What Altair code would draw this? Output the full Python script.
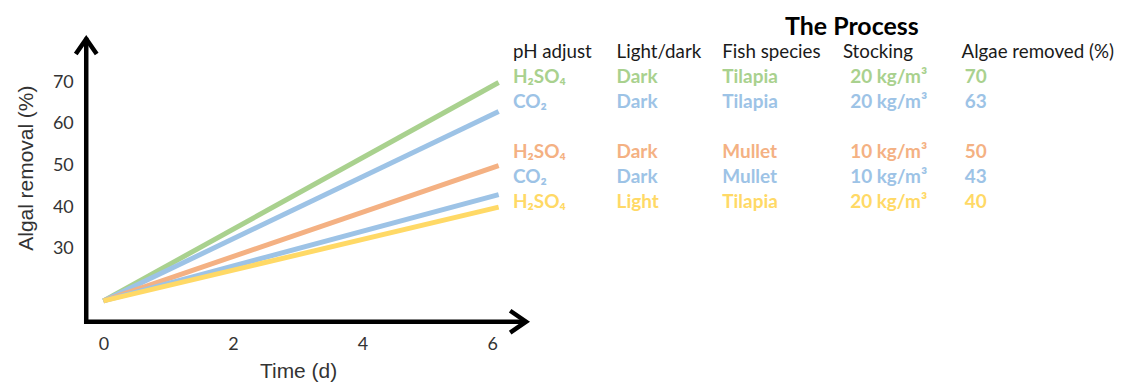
import altair as alt
import pandas as pd

# One line per treatment process
ph_adjust = ["H₂SO₄", "CO₂", "H₂SO₄", "CO₂", "H₂SO₄"]
light_dark = ["Dark", "Dark", "Dark", "Dark", "Light"]
fish_species = ["Tilapia", "Tilapia", "Mullet", "Mullet", "Tilapia"]
stocking = ["20 kg/m³", "20 kg/m³", "10 kg/m³", "10 kg/m³", "20 kg/m³"]
algae_removed = [70, 63, 50, 43, 40]

# Removal at the start of the run, and the first/last day of the run
removal_day0 = 17.4
run_days = [0, 6.1]

x_ticks = [0, 2, 4, 6]
y_ticks = [30, 40, 50, 60, 70]

headers = ["pH adjust", "Light/dark", "Fish species", "Stocking", "Algae removed (%)"]
table_title = "The Process"

# Styling
palette = ["#A9D18E", "#9DC3E6", "#F4B183", "#9DC3E6", "#FFD966"]
TICK_FONT = "Lato"
TITLE_FONT = "Liberation Sans"
TABLE_FONT = "Lato"
PLOT_W, PLOT_H = 427.8, 283.7
COL_WIDTHS = [103.4, 105.3, 120.7, 119.0, 162.3]
COL_DX = [0, 0, 0, 7.3, 3.3]

series_ids = [f"p{i + 1}" for i in range(len(algae_removed))]
color_scale = alt.Scale(domain=series_ids, range=palette)

# ---- line chart -------------------------------------------------------
line_rows = []
for sid, end in zip(series_ids, algae_removed):
    line_rows.append({"series": sid, "day": run_days[0], "removal": removal_day0})
    line_rows.append({"series": sid, "day": run_days[1], "removal": end})
lines_df = pd.DataFrame(line_rows)

lines = alt.Chart(lines_df).mark_line(strokeWidth=5).encode(
    x=alt.X(
        "day:Q",
        scale=alt.Scale(domain=[-0.265, 6.317], nice=False, zero=False),
        axis=alt.Axis(
            values=x_ticks, title="Time (d)", domain=False, ticks=False, tickSize=0,
            grid=False, labelFont=TICK_FONT, labelFontSize=18, labelColor="#333333",
            labelPadding=14, titleFont=TITLE_FONT, titleFontSize=21,
            titleFontWeight="normal", titleColor="#333333",
            titleX=212.5, titleY=50, titleBaseline="middle", titleAlign="center",
        ),
    ),
    y=alt.Y(
        "removal:Q",
        scale=alt.Scale(domain=[12.4, 80.5], nice=False, zero=False),
        axis=alt.Axis(
            values=y_ticks, title="Algal removal (%)", domain=False, ticks=False,
            tickSize=0, grid=False, labelFont=TICK_FONT, labelFontSize=18,
            labelColor="#333333", labelPadding=13, titleFont=TITLE_FONT,
            titleFontSize=21, titleFontWeight="normal", titleColor="#333333",
            titleX=-59.5, titleY=129.2, titleBaseline="middle", titleAlign="center",
        ),
    ),
    color=alt.Color("series:N", scale=color_scale, legend=None),
    order=alt.Order("series:N"),
)

one = pd.DataFrame({"k": [0]})
axis_style = dict(color="black", strokeWidth=4.5)

y_axis_line = alt.Chart(one).mark_rule(strokeCap="square", **axis_style).encode(
    x=alt.value(0), y=alt.value(1), y2=alt.value(PLOT_H)
)
x_axis_line = alt.Chart(one).mark_rule(strokeCap="square", **axis_style).encode(
    x=alt.value(0), x2=alt.value(439), y=alt.value(PLOT_H)
)
up_arrow = alt.Chart(one).mark_point(
    shape="M-1,1.45L0,0L1,1.45", filled=False, size=441, opacity=1,
    strokeJoin="miter", **axis_style
).encode(x=alt.value(0), y=alt.value(0))
right_arrow = alt.Chart(one).mark_point(
    shape="M-1.45,-1L0,0L-1.45,1", filled=False, size=484, opacity=1,
    strokeJoin="miter", **axis_style
).encode(x=alt.value(441.2), y=alt.value(PLOT_H))

main = alt.layer(lines, y_axis_line, x_axis_line, up_arrow, right_arrow).properties(
    width=PLOT_W, height=PLOT_H
)

# ---- process table ----------------------------------------------------
title_row, header_row = 0, 1
body_rows = [i + 2 + (1 if i >= 2 else 0) for i in range(len(series_ids))]
row_scale = alt.Scale(domain=[0.482, 11.776], reverse=True, nice=False, zero=False)
cells = [ph_adjust, light_dark, fish_species, stocking, [str(v) for v in algae_removed]]


def table_column(j):
    y = alt.Y("row:Q", scale=row_scale, axis=None)
    head = alt.Chart(pd.DataFrame({"row": [header_row], "text": [headers[j]]})).mark_text(
        align="left", baseline="middle", font=TABLE_FONT, fontSize=18.8, color="#1a1a1a"
    ).encode(x=alt.value(0), y=y, text="text:N")
    body = alt.Chart(
        pd.DataFrame({"row": body_rows, "text": cells[j], "series": series_ids})
    ).mark_text(
        align="left", baseline="middle", font=TABLE_FONT, fontSize=19,
        fontWeight="bold", dx=COL_DX[j],
    ).encode(
        x=alt.value(0), y=y, text="text:N",
        color=alt.Color("series:N", scale=color_scale, legend=None),
    )
    layers = [head, body]
    if j == 3:
        layers.append(
            alt.Chart(pd.DataFrame({"row": [title_row], "text": [table_title]})).mark_text(
                align="center", baseline="middle", font=TABLE_FONT, fontSize=25,
                fontWeight="bold", color="black",
            ).encode(x=alt.value(9), y=y, text="text:N")
        )
    return alt.layer(*layers).properties(width=COL_WIDTHS[j], height=PLOT_H)


chart = (
    alt.hconcat(main, *[table_column(j) for j in range(5)], spacing=0, bounds="flush")
    .resolve_scale(x="independent", y="independent", color="independent")
    .properties(
        autosize=alt.AutoSizeParams(type="pad"),
        padding={"left": 15.5, "top": 13.4, "right": 0, "bottom": 2.8},
        background="white",
    )
    .configure_view(stroke=None)
)

chart.save("out.html", embed_options={"renderer": "svg", "actions": False})
